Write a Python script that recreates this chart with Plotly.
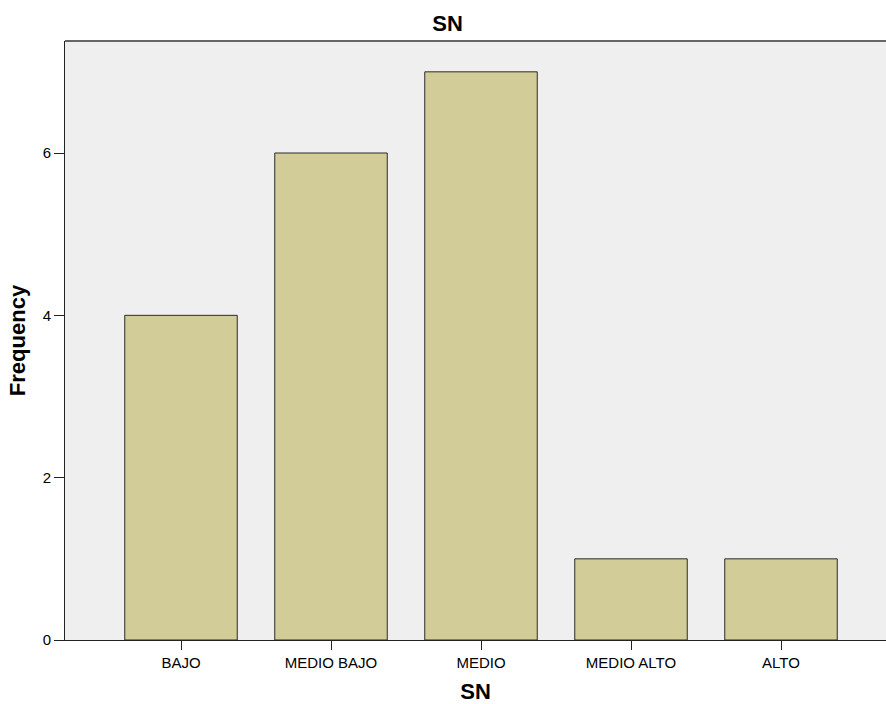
import plotly.graph_objects as go

categories = ["BAJO", "MEDIO BAJO", "MEDIO", "MEDIO ALTO", "ALTO"]
frequency = [4, 6, 7, 1, 1]
y_ticks = [0, 2, 4, 6]

fig = go.Figure()
fig.add_trace(go.Bar(
    x=categories, y=frequency,
    width=0.75,
    marker=dict(color="#D2CD98", line=dict(color="#2b2b2b", width=1)),
))

fig.update_layout(
    width=886, height=704,
    margin=dict(l=65, r=0, t=41, b=64),
    paper_bgcolor="white",
    plot_bgcolor="#EFEFEF",
    font=dict(family="Liberation Sans, Arial, sans-serif", color="#000"),
    showlegend=False,
    title=dict(text="<b>SN</b>", xref="paper", x=0.4659, xanchor="center",
               yref="container", y=1 - 23 / 704, yanchor="middle",
               font=dict(size=22)),
    xaxis=dict(
        range=[-0.7733, 4.7],
        showline=True, linecolor="#222", linewidth=1,
        ticks="outside", ticklen=9, tickcolor="#222",
        tickfont=dict(size=15),
        title=dict(text="<b>SN</b>", font=dict(size=22), standoff=15),
        showgrid=False, zeroline=False,
    ),
    yaxis=dict(
        range=[0, 7.38],
        tickvals=y_ticks,
        showline=True, linecolor="#222", linewidth=1,
        ticks="outside", ticklen=10, tickcolor="#222",
        tickfont=dict(size=15),
        title=dict(text="<b>Frequency</b>", font=dict(size=22), standoff=10),
        showgrid=False, zeroline=False,
    ),
    shapes=[dict(type="line", xref="paper", yref="paper", x0=0, x1=1, y0=1, y1=1,
                 line=dict(color="#666", width=2))],
)

fig.write_html(
    "out.html",
    config={"displayModeBar": False},
    post_script="document.body.style.margin='0';document.body.style.overflow='hidden';",
)
